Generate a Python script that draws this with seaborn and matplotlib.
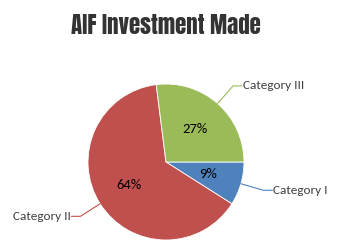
import numpy as np
import matplotlib
matplotlib.use("Agg")
import matplotlib.pyplot as plt
import seaborn as sns

categories = ["Category I", "Category II", "Category III"]
shares = [9, 64, 27]
colors = ["#4F81BD", "#C0504D", "#9BBB59"]
title = "AIF Investment Made"

sns.set_theme(style="white")
plt.rcParams['font.family'] = ['Carlito', 'DejaVu Sans']

W, H = 339, 246
fig = plt.figure(figsize=(W / 100, H / 100), dpi=100)
ax = fig.add_axes([0, 0, 1, 1])
cx, cy, r = 166, H - 162, 78

wedges, texts, autotexts = ax.pie(
    shares, colors=colors, startangle=0, counterclock=False,
    center=(cx, cy), radius=r, frame=True,
    autopct=lambda p: f"{p:.0f}%", pctdistance=0.56,
    wedgeprops=dict(linewidth=0.6, edgecolor="white"),
    textprops=dict(fontsize=10.5, color="black"))
ax.set_xlim(0, W)
ax.set_ylim(0, H)
ax.set_aspect("equal")
ax.axis("off")

for w, name, col in zip(wedges, categories, colors):
    mid = np.deg2rad((w.theta1 + w.theta2) / 2)
    p0 = (cx + r * np.cos(mid), cy + r * np.sin(mid))
    p1 = (cx + 1.3 * r * np.cos(mid), cy + 1.3 * r * np.sin(mid))
    side = 1 if np.cos(mid) >= 0 else -1
    p2 = (p1[0] + side * 9, p1[1])
    ax.plot([p0[0], p1[0], p2[0]], [p0[1], p1[1], p2[1]], color=col, lw=0.8)
    ax.text(p2[0] + side * 0.5, p2[1], name, ha="left" if side > 0 else "right",
            va="center", fontsize=9.5, color="#404040")

fig.text(166 / W, 1 - 34 / H, title, ha="center", va="baseline",
         fontsize=16.5, color="#333333", family=['Anton', 'DejaVu Sans'])

fig.savefig("out.png", dpi=100, facecolor="white")
